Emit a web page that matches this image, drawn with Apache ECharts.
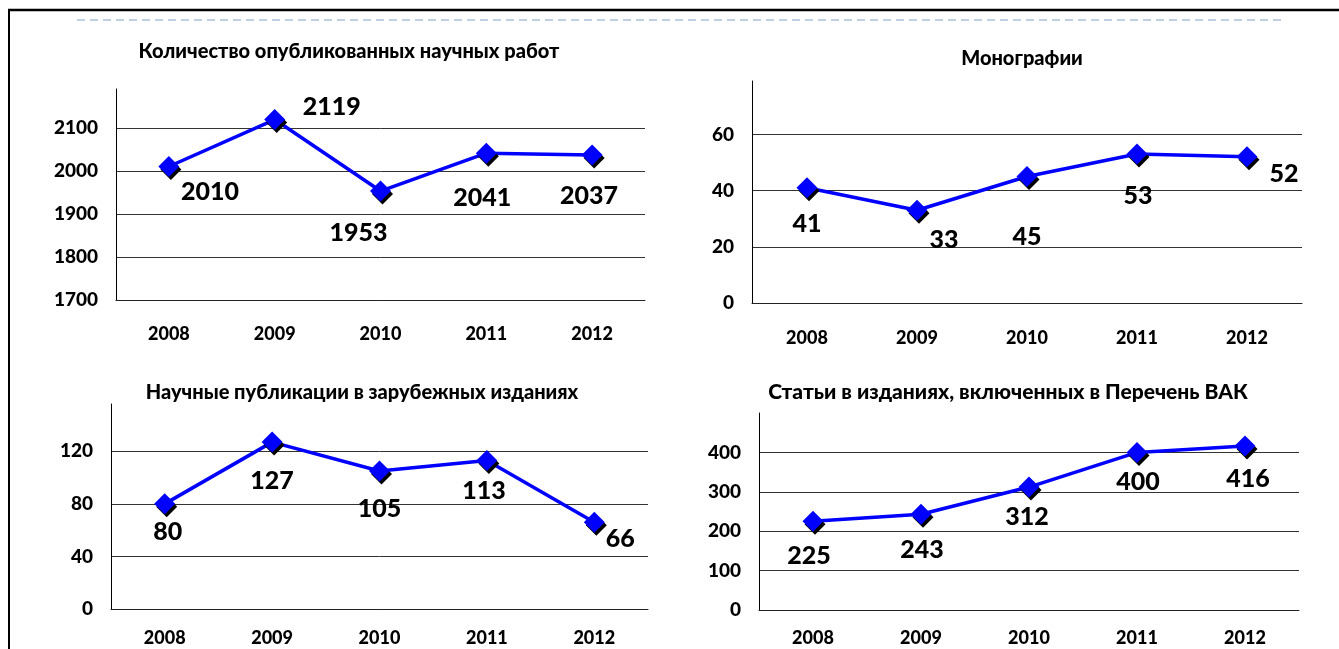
<!DOCTYPE html>
<html>
<head>
<meta charset="utf-8">
<script src="https://cdn.jsdelivr.net/npm/echarts@6/dist/echarts.min.js"></script>
<style>
  html, body { margin: 0; padding: 0; background: #fff; }
  #chart { width: 1339px; height: 649px; }
</style>
</head>
<body>
<div id="chart"></div>
<script>
const years = ['2008', '2009', '2010', '2011', '2012'];

const publications = [2010, 2119, 1953, 2041, 2037];
const monographs = [41, 33, 45, 53, 52];
const foreignPubs = [80, 127, 105, 113, 66];
const vakArticles = [225, 243, 312, 400, 416];

const titles = [
  'Количество опубликованных научных работ',
  'Монографии',
  'Научные публикации в зарубежных изданиях',
  'Статьи в изданиях, включенных в Перечень ВАК'
];

// where each value label sits relative to its marker
const labelOffsets = [
  [[41, 25], [57, -13], [-22, 42], [-4, 45], [-3, 41]],
  [[0, 36], [27, 30], [0, 60], [1, 42], [37, 17]],
  [[3, 28], [0, 39], [0, 38], [-3, 30], [26, 17]],
  [[-4, 35], [1, 36], [-2, 30], [1, 30], [3, 33]]
];

const FONT = 'Lato, "Open Sans", sans-serif';
const WEIGHT = 900;

const panels = [
  { data: publications, grid: { left: 116, right: 694, top: 89, bottom: 349 },
    y: { min: 1700, max: 2190, interval: 100 }, xMargin: 25,
    title: { x: 349, y: 53, size: 20 } },
  { data: monographs, grid: { left: 752, right: 37, top: 81, bottom: 346 },
    y: { min: 0, max: 79, interval: 20 }, xMargin: 26,
    title: { x: 1022, y: 60, size: 20 } },
  { data: foreignPubs, grid: { left: 111, right: 691, top: 404, bottom: 40 },
    y: { min: 0, max: 156, interval: 40 }, xMargin: 20,
    title: { x: 362, y: 394, size: 20 } },
  { data: vakArticles, grid: { left: 759, right: 40, top: 413, bottom: 39 },
    y: { min: 0, max: 500, interval: 100 }, xMargin: 19,
    title: { x: 1008, y: 393, size: 21 } }
];

const chart = echarts.init(document.getElementById('chart'));

const option = {
  animation: false,
  backgroundColor: '#fff',
  textStyle: { fontFamily: FONT },
  title: panels.map((p, i) => ({
    text: titles[i],
    left: p.title.x,
    top: p.title.y - p.title.size / 2 - 1,
    textAlign: 'center',
    padding: 0,
    textStyle: { fontFamily: FONT, fontSize: p.title.size, fontWeight: WEIGHT, color: '#000' }
  })),
  grid: panels.map((p) => ({
    left: p.grid.left,
    right: p.grid.right,
    top: p.grid.top,
    bottom: p.grid.bottom,
    containLabel: false
  })),
  xAxis: panels.map((p, i) => ({
    type: 'category',
    gridIndex: i,
    data: years,
    boundaryGap: true,
    axisLine: { lineStyle: { color: '#222', width: 1 } },
    axisTick: { show: false },
    axisLabel: {
      margin: p.xMargin,
      fontFamily: FONT, fontSize: 18, fontWeight: WEIGHT, color: '#000'
    },
    splitLine: { show: false }
  })),
  yAxis: panels.map((p, i) => ({
    type: 'value',
    gridIndex: i,
    min: p.y.min,
    max: p.y.max,
    interval: p.y.interval,
    axisLine: { show: true, lineStyle: { color: '#000', width: 1 } },
    axisTick: { show: false },
    axisLabel: {
      margin: 18,
      showMaxLabel: false,
      formatter: (v) => (v % p.y.interval === 0 ? String(v) : ''),
      fontFamily: FONT, fontSize: 19, fontWeight: WEIGHT, color: '#000'
    },
    splitLine: {
      show: true,
      showMaxLine: false,
      lineStyle: { color: '#333', width: 1 }
    }
  })),
  series: panels.map((p, i) => ({
    type: 'line',
    xAxisIndex: i,
    yAxisIndex: i,
    data: p.data.map((v, j) => ({
      value: v,
      label: { offset: labelOffsets[i][j] }
    })),
    symbol: 'diamond',
    symbolSize: 21,
    lineStyle: { color: '#0000ff', width: 3.5 },
    itemStyle: {
      color: '#0000ff',
      shadowColor: '#000',
      shadowBlur: 0,
      shadowOffsetX: 2,
      shadowOffsetY: 3
    },
    label: {
      show: true,
      position: 'inside',
      fontFamily: FONT,
      fontSize: 25,
      fontWeight: WEIGHT,
      color: '#000'
    },
    z: 3
  })),
  graphic: [
    { type: 'line', shape: { x1: 8, y1: 10, x2: 1339, y2: 10 }, style: { stroke: '#000', lineWidth: 2.5 } },
    { type: 'line', shape: { x1: 9, y1: 9, x2: 9, y2: 649 }, style: { stroke: '#000', lineWidth: 2 } },
    { type: 'line', shape: { x1: 77, y1: 20, x2: 1282, y2: 20 },
      style: { stroke: '#a9c1dc', lineWidth: 1.5, lineDash: [8, 5] } }
  ]
};

chart.setOption(option);
</script>
</body>
</html>
